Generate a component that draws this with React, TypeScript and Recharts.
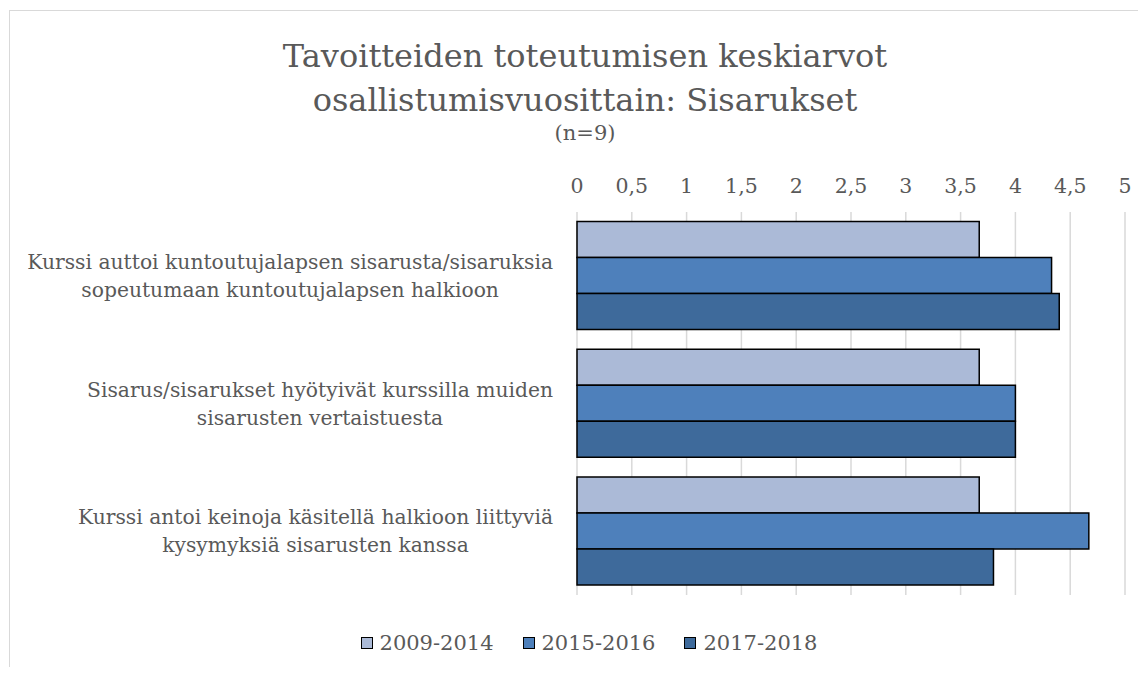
import React from 'react';
import { BarChart, Bar, XAxis, YAxis, CartesianGrid } from 'recharts';

const categoryLines = [
  ['Kurssi auttoi kuntoutujalapsen sisarusta/sisaruksia', 'sopeutumaan kuntoutujalapsen halkioon'],
  ['Sisarus/sisarukset hyötyivät kurssilla muiden', 'sisarusten vertaistuesta'],
  ['Kurssi antoi keinoja käsitellä halkioon liittyviä', 'kysymyksiä sisarusten kanssa'],
];
const values2009_2014 = [3.67, 3.67, 3.67];
const values2015_2016 = [4.33, 4.0, 4.67];
const values2017_2018 = [4.4, 4.0, 3.8];
const xTicks = [0, 0.5, 1, 1.5, 2, 2.5, 3, 3.5, 4, 4.5, 5];

const seriesNames = ['2009-2014', '2015-2016', '2017-2018'];
const seriesColors = ['#abbad7', '#4e80bb', '#3e6a9b'];

const TEXT = '#595959';
const FONT = '"DejaVu Serif", serif';
const LABEL_SIZE = 20.3;

let ctx: CanvasRenderingContext2D | null = null;
const measure = (t: string, font: string) => {
  if (!ctx) ctx = document.createElement('canvas').getContext('2d');
  if (!ctx) return t.length * 10;
  ctx.font = font;
  return ctx.measureText(t).width;
};

const chartData = categoryLines.map((lines, i) => ({
  name: lines.join(' '),
  [seriesNames[0]]: values2009_2014[i],
  [seriesNames[1]]: values2015_2016[i],
  [seriesNames[2]]: values2017_2018[i],
}));

// two-line label block, right aligned to the plot, lines centred within the block
function CategoryTick(props: any) {
  const { x, y, payload } = props;
  const lines = categoryLines[payload.index] || [String(payload.value)];
  const font = `${LABEL_SIZE}px ${FONT}`;
  const maxW = Math.max(...lines.map((l) => measure(l, font)));
  const right = x - 24;
  const cx = right - maxW / 2;
  const lh = 28;
  const startY = y - ((lines.length - 1) * lh) / 2;
  return (
    <g>
      {lines.map((l, i) => (
        <text
          key={i}
          x={cx}
          y={startY + i * lh}
          textAnchor="middle"
          dominantBaseline="central"
          fill={TEXT}
          style={{ fontFamily: FONT, fontSize: LABEL_SIZE }}
        >
          {l}
        </text>
      ))}
    </g>
  );
}

export default function App() {
  return (
    <div style={{ position: 'relative', width: 1146, height: 675, margin: -8, overflow: 'hidden', background: '#fff' }}>
      <div
        style={{
          position: 'absolute', left: 9, top: 10, width: 1160, height: 700,
          border: '1px solid #d9d9d9', boxSizing: 'border-box',
        }}
      />
      <div
        style={{
          position: 'absolute', left: 0, top: 34, width: 1170, textAlign: 'center',
          fontFamily: FONT, color: TEXT,
        }}
      >
        <div style={{ fontSize: 32, lineHeight: '44px' }}>Tavoitteiden toteutumisen keskiarvot</div>
        <div style={{ fontSize: 32, lineHeight: '44px' }}>osallistumisvuosittain: Sisarukset</div>
        <div style={{ fontSize: 21, lineHeight: '28px', marginTop: -3 }}>(n=9)</div>
      </div>
      <div style={{ position: 'absolute', left: 0, top: 0 }}>
        <BarChart
          layout="vertical"
          width={1146}
          height={675}
          data={chartData}
          margin={{ top: 165, right: 21, bottom: 80, left: 0 }}
          barCategoryGap="7.5%"
          barGap={0}
        >
          <CartesianGrid horizontal={false} stroke="#d9d9d9" strokeWidth={1.5} />
          <XAxis
            type="number"
            orientation="top"
            domain={[0, 5]}
            ticks={xTicks}
            height={47}
            axisLine={false}
            tickLine={false}
            tickMargin={13}
            tickFormatter={(v) => String(v).replace('.', ',')}
            tick={{ fill: TEXT, fontSize: 20.5, fontFamily: FONT }}
          />
          <YAxis
            type="category"
            dataKey="name"
            width={577}
            axisLine={false}
            tickLine={false}
            tickSize={0}
            tickMargin={0}
            tick={<CategoryTick />}
            interval={0}
          />
          {seriesNames.map((s, i) => (
            <Bar key={s} dataKey={s} fill={seriesColors[i]} stroke="#000" strokeWidth={1.5} isAnimationActive={false} />
          ))}
        </BarChart>
      </div>
      <div
        style={{
          position: 'absolute', left: 16, top: 631, width: 1146, display: 'flex', justifyContent: 'center',
          fontFamily: FONT, fontSize: 21, color: TEXT,
        }}
      >
        {seriesNames.map((s, i) => (
          <div key={s} style={{ display: 'flex', alignItems: 'center', marginRight: i < 2 ? 29 : 0 }}>
            <span
              style={{
                display: 'inline-block', width: 10, height: 10, background: seriesColors[i],
                border: '1.5px solid #000', marginRight: 7,
              }}
            />
            <span>{s}</span>
          </div>
        ))}
      </div>
    </div>
  );
}
